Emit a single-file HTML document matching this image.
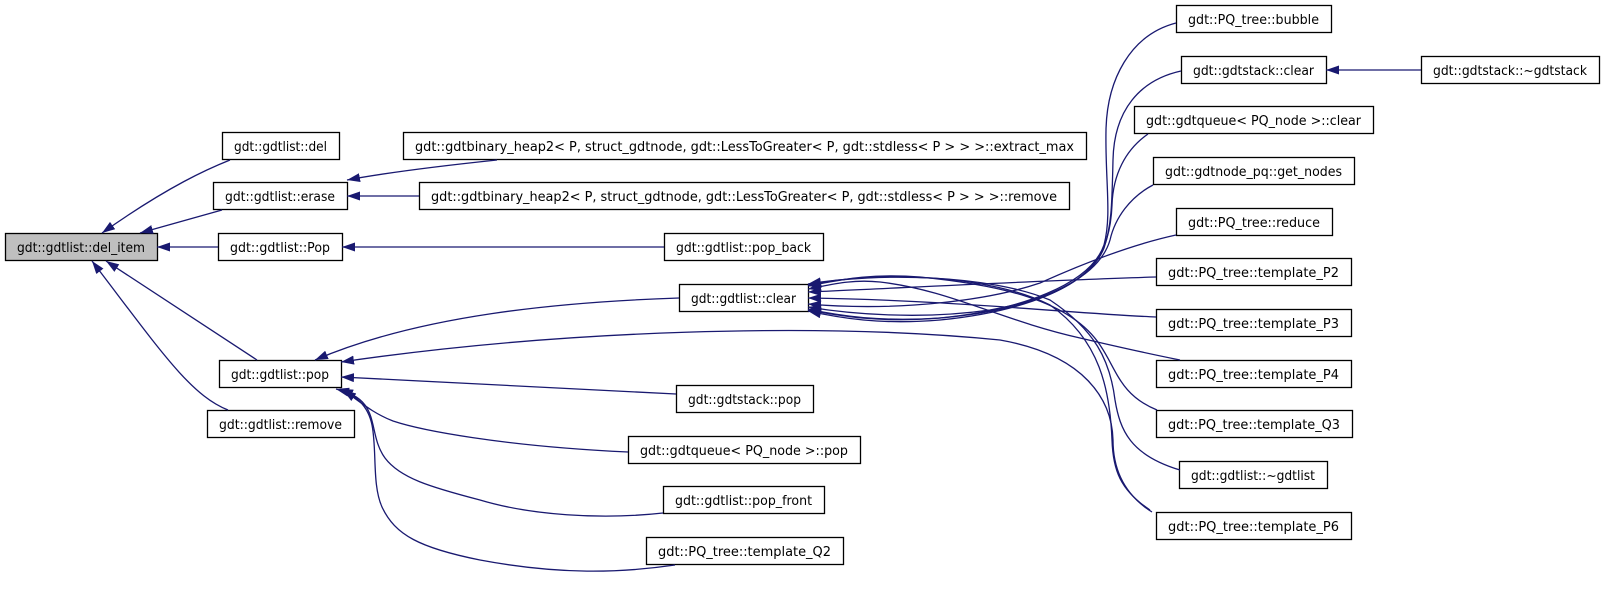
<!DOCTYPE html>
<html><head><meta charset="utf-8"><style>
html,body{margin:0;padding:0;background:#fff;}
svg{display:block;}
text{font-family:"DejaVu Sans","Liberation Sans",sans-serif;font-size:13px;fill:#000;}
</style></head><body>
<svg width="1605" height="589" viewBox="0 0 1605 589" xmlns="http://www.w3.org/2000/svg">
<defs><marker id="a" markerUnits="userSpaceOnUse" markerWidth="14" markerHeight="10" refX="13" refY="4.5" orient="auto"><path d="M0,0 L13,4.5 L0,9 z" fill="#191970"/></marker></defs>

<g stroke="#000" stroke-width="1.3" fill="#fff">
<rect x="5.5" y="233.5" width="152" height="27" fill="#bfbfbf"/>
<rect x="222.5" y="132.5" width="117" height="27"/>
<rect x="213.5" y="182.5" width="134" height="27"/>
<rect x="218.5" y="233.5" width="124" height="27"/>
<rect x="219.5" y="360.5" width="122" height="27"/>
<rect x="207.5" y="410.5" width="147" height="27"/>
<rect x="403.5" y="132.5" width="683" height="27"/>
<rect x="419.5" y="182.5" width="650" height="27"/>
<rect x="664.5" y="233.5" width="159" height="27"/>
<rect x="679.5" y="284.5" width="129" height="27"/>
<rect x="676.5" y="385.5" width="137" height="27"/>
<rect x="628.5" y="436.5" width="232" height="27"/>
<rect x="663.5" y="486.5" width="161" height="27"/>
<rect x="646.5" y="537.5" width="197" height="27"/>
<rect x="1176.5" y="5.5" width="155" height="27"/>
<rect x="1181.5" y="56.5" width="145" height="27"/>
<rect x="1421.5" y="56.5" width="178" height="27"/>
<rect x="1134.5" y="106.5" width="239" height="27"/>
<rect x="1153.5" y="157.5" width="201" height="27"/>
<rect x="1176.5" y="208.5" width="156" height="27"/>
<rect x="1156.5" y="258.5" width="195" height="27"/>
<rect x="1156.5" y="309.5" width="195" height="27"/>
<rect x="1156.5" y="360.5" width="195" height="27"/>
<rect x="1156.5" y="410.5" width="196" height="27"/>
<rect x="1179.5" y="461.5" width="148" height="27"/>
<rect x="1156.5" y="512.5" width="195" height="27"/>
</g>

<g>
<text x="17" y="252" textLength="128" lengthAdjust="spacingAndGlyphs">gdt::gdtlist::del_item</text>
<text x="234" y="151" textLength="93" lengthAdjust="spacingAndGlyphs">gdt::gdtlist::del</text>
<text x="225" y="201" textLength="110" lengthAdjust="spacingAndGlyphs">gdt::gdtlist::erase</text>
<text x="230" y="252" textLength="100" lengthAdjust="spacingAndGlyphs">gdt::gdtlist::Pop</text>
<text x="231" y="379" textLength="98" lengthAdjust="spacingAndGlyphs">gdt::gdtlist::pop</text>
<text x="219" y="429" textLength="123" lengthAdjust="spacingAndGlyphs">gdt::gdtlist::remove</text>
<text x="415" y="151" textLength="659" lengthAdjust="spacingAndGlyphs">gdt::gdtbinary_heap2&lt; P, struct_gdtnode, gdt::LessToGreater&lt; P, gdt::stdless&lt; P &gt; &gt; &gt;::extract_max</text>
<text x="431" y="201" textLength="626" lengthAdjust="spacingAndGlyphs">gdt::gdtbinary_heap2&lt; P, struct_gdtnode, gdt::LessToGreater&lt; P, gdt::stdless&lt; P &gt; &gt; &gt;::remove</text>
<text x="676" y="252" textLength="135" lengthAdjust="spacingAndGlyphs">gdt::gdtlist::pop_back</text>
<text x="691" y="303" textLength="105" lengthAdjust="spacingAndGlyphs">gdt::gdtlist::clear</text>
<text x="688" y="404" textLength="113" lengthAdjust="spacingAndGlyphs">gdt::gdtstack::pop</text>
<text x="640" y="455" textLength="208" lengthAdjust="spacingAndGlyphs">gdt::gdtqueue&lt; PQ_node &gt;::pop</text>
<text x="675" y="505" textLength="137" lengthAdjust="spacingAndGlyphs">gdt::gdtlist::pop_front</text>
<text x="658" y="556" textLength="173" lengthAdjust="spacingAndGlyphs">gdt::PQ_tree::template_Q2</text>
<text x="1188" y="24" textLength="131" lengthAdjust="spacingAndGlyphs">gdt::PQ_tree::bubble</text>
<text x="1193" y="75" textLength="121" lengthAdjust="spacingAndGlyphs">gdt::gdtstack::clear</text>
<text x="1433" y="75" textLength="154" lengthAdjust="spacingAndGlyphs">gdt::gdtstack::~gdtstack</text>
<text x="1146" y="125" textLength="215" lengthAdjust="spacingAndGlyphs">gdt::gdtqueue&lt; PQ_node &gt;::clear</text>
<text x="1165" y="176" textLength="177" lengthAdjust="spacingAndGlyphs">gdt::gdtnode_pq::get_nodes</text>
<text x="1188" y="227" textLength="132" lengthAdjust="spacingAndGlyphs">gdt::PQ_tree::reduce</text>
<text x="1168" y="277" textLength="171" lengthAdjust="spacingAndGlyphs">gdt::PQ_tree::template_P2</text>
<text x="1168" y="328" textLength="171" lengthAdjust="spacingAndGlyphs">gdt::PQ_tree::template_P3</text>
<text x="1168" y="379" textLength="171" lengthAdjust="spacingAndGlyphs">gdt::PQ_tree::template_P4</text>
<text x="1168" y="429" textLength="172" lengthAdjust="spacingAndGlyphs">gdt::PQ_tree::template_Q3</text>
<text x="1191" y="480" textLength="124" lengthAdjust="spacingAndGlyphs">gdt::gdtlist::~gdtlist</text>
<text x="1168" y="531" textLength="171" lengthAdjust="spacingAndGlyphs">gdt::PQ_tree::template_P6</text>
</g>

<g fill="none" stroke="#191970" stroke-width="1.3" marker-end="url(#a)">
<path d="M230,160 C210,168 170,185 102,233"/>
<path d="M222,210 L140,233"/>
<path d="M218,247 L157,247"/>
<path d="M257,360 L106,261"/>
<path d="M228,410 C190,395 160,350 92,261"/>
<path d="M497,160 C440,166 390,172 347,180"/>
<path d="M419,196 L347,196"/>
<path d="M664,247 L342,247"/>
<path d="M679,298 C560,302 420,315 315,360"/>
<path d="M1152,512 C1125,495 1113,470 1113,440 C1112,400 1085,355 1000,340 C820,322 560,330 341,362"/>
<path d="M676,394 L341,377"/>
<path d="M628,452 C500,446 420,430 393,421 C372,413 358,400 343,390"/>
<path d="M663,513 C600,520 530,515 480,500 C430,487 400,478 385,458 C372,440 376,420 365,405 C358,396 348,392 336,389"/>
<path d="M675,565 C620,573 560,575 480,560 C420,548 395,535 382,507 C372,485 377,450 372,425 C368,405 355,395 340,389"/>
<path d="M1421,70 L1326,70"/>
<path d="M1176,23 C1130,35 1107,80 1106,130 C1105,180 1112,215 1104,245 C1090,285 1020,310 940,318 C880,323 840,316 808,310"/>
<path d="M1181,71 C1140,80 1114,110 1113,160 C1112,200 1112,225 1104,248 C1088,288 1020,312 940,320 C880,325 840,318 808,311"/>
<path d="M1148,134 C1125,150 1113,175 1112,205 C1111,230 1105,250 1095,262 C1070,295 1010,312 940,318 C880,322 840,316 808,309"/>
<path d="M1153,185 C1130,197 1115,218 1110,240 C1100,275 1050,300 990,310 C920,320 850,314 808,307"/>
<path d="M1176,235 C1130,245 1080,265 1040,283 C990,300 900,312 808,304"/>
<path d="M1156,277 C1050,280 900,288 808,292"/>
<path d="M1156,317 C1080,314 950,300 808,298"/>
<path d="M1180,360 C1140,352 1110,345 1080,338 C1000,320 950,290 880,282 C850,279 830,285 808,289"/>
<path d="M1157,410 C1120,395 1117,370 1100,345 C1070,300 1000,285 920,277 C870,273 840,280 808,286"/>
<path d="M1180,470 C1130,455 1120,430 1115,400 C1110,360 1095,330 1050,300 C990,275 880,272 808,284"/>
<path d="M1150,510 C1120,490 1113,470 1112,440 C1110,390 1100,340 1050,305 C990,275 880,270 808,285"/>
</g>
</svg>
</body></html>
